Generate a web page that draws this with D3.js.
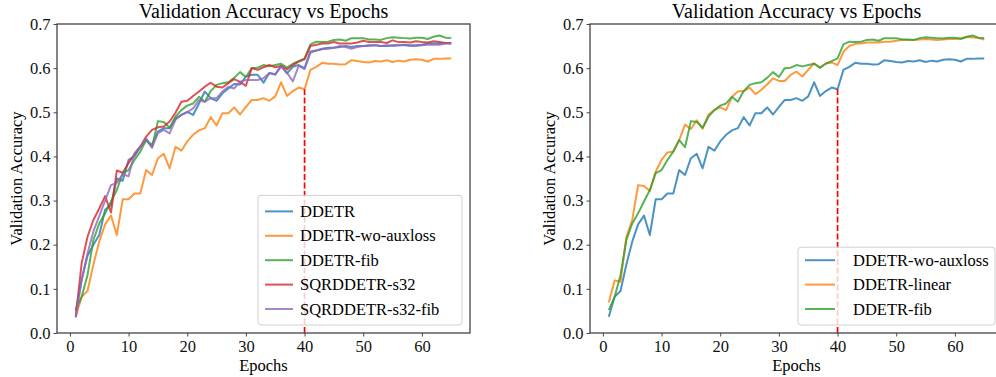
<!DOCTYPE html>
<html>
<head>
<meta charset="utf-8">
<script src="https://cdn.jsdelivr.net/npm/d3@7"></script>
<style>
  body { margin: 0; background: #fff; }
  svg { display: block; font-family: "Liberation Serif", "Times New Roman", serif; }
</style>
</head>
<body>
<svg id="chart" width="996" height="377"></svg>
<script>
// epochs 1..65, values
const epochs = d3.range(1, 66)
const xTicks = [0, 10, 20, 30, 40, 50, 60]
const yTicks = [0, 0.1, 0.2, 0.3, 0.4, 0.5, 0.6, 0.7]
const markEpoch = 40

const ddetr = [
  0.05, 0.12, 0.175, 0.2, 0.222, 0.279, 0.29, 0.35, 0.345, 0.392, 0.4, 0.422, 0.437, 0.426,
  0.456, 0.464, 0.464, 0.486, 0.494, 0.501, 0.494, 0.52, 0.547, 0.532,
  0.526, 0.543, 0.554, 0.564, 0.563, 0.581, 0.585, 0.585, 0.567, 0.589, 0.586, 0.605, 0.588, 0.603, 0.607, 0.6,
  0.638, 0.64, 0.644, 0.646, 0.646, 0.648, 0.65, 0.648, 0.65, 0.65, 0.652, 0.652, 0.65, 0.65, 0.652,
  0.652, 0.653, 0.652, 0.652, 0.653, 0.656, 0.656, 0.656, 0.657, 0.656
]
const ddetrWoAux = [
  0.037, 0.082, 0.095, 0.155, 0.207, 0.246, 0.266, 0.222, 0.303, 0.303, 0.316, 0.316, 0.369, 0.358,
  0.396, 0.406, 0.373, 0.422, 0.413, 0.434, 0.449,
  0.459, 0.464, 0.489, 0.47, 0.498, 0.498, 0.511, 0.495, 0.512, 0.528, 0.528, 0.532, 0.526, 0.536,
  0.568, 0.537, 0.548, 0.556, 0.552,
  0.596, 0.603, 0.612, 0.61, 0.61, 0.608, 0.609, 0.618, 0.616, 0.614, 0.613, 0.616, 0.615, 0.618, 0.614,
  0.617, 0.615, 0.619, 0.62, 0.619, 0.615, 0.621, 0.621, 0.622, 0.622
]
const ddetrFib = [
  0.052, 0.082, 0.131, 0.211, 0.248, 0.271, 0.298, 0.324, 0.362, 0.369, 0.392, 0.411, 0.437, 0.421,
  0.48, 0.478, 0.465, 0.49, 0.505, 0.515, 0.52, 0.535, 0.524, 0.548,
  0.562, 0.566, 0.568, 0.578, 0.591, 0.58, 0.6, 0.601, 0.607, 0.604, 0.607, 0.61, 0.601, 0.61, 0.616, 0.622,
  0.654, 0.66, 0.659, 0.66, 0.664, 0.665, 0.662, 0.668, 0.668, 0.668, 0.665, 0.665, 0.664, 0.668, 0.67,
  0.669, 0.668, 0.667, 0.669, 0.669, 0.666, 0.671, 0.674, 0.669, 0.668
]
const sqrS32 = [
  0.037, 0.158, 0.218, 0.256, 0.282, 0.31, 0.273, 0.368, 0.363, 0.385, 0.405, 0.422, 0.445,
  0.46, 0.466, 0.468, 0.479, 0.499, 0.524, 0.526, 0.537, 0.547, 0.558, 0.567,
  0.558, 0.556, 0.566, 0.575, 0.569, 0.56, 0.6, 0.596, 0.602, 0.607, 0.602, 0.605, 0.597, 0.607, 0.615, 0.62,
  0.65, 0.653, 0.656, 0.656, 0.659, 0.656, 0.656, 0.656, 0.658, 0.662, 0.659, 0.659, 0.659, 0.657, 0.663,
  0.659, 0.659, 0.658, 0.661, 0.659, 0.658, 0.661, 0.659, 0.657, 0.657
]
const sqrS32Fib = [
  0.035, 0.12, 0.18, 0.23, 0.265, 0.3, 0.335, 0.34, 0.36, 0.355, 0.407, 0.422, 0.441, 0.42,
  0.453, 0.46, 0.452, 0.483, 0.494, 0.5, 0.509, 0.528, 0.524, 0.532,
  0.532, 0.547, 0.558, 0.554, 0.569, 0.573, 0.573, 0.573, 0.577, 0.589, 0.585, 0.604, 0.59, 0.57, 0.605, 0.598,
  0.635, 0.64, 0.643, 0.644, 0.646, 0.65, 0.648, 0.644, 0.648, 0.65, 0.65, 0.652, 0.65, 0.652, 0.65,
  0.652, 0.652, 0.65, 0.65, 0.652, 0.653, 0.653, 0.653, 0.656, 0.656
]
const ddetrLinear = [
  0.069, 0.119, 0.116, 0.218, 0.256, 0.335, 0.333, 0.322, 0.366, 0.392, 0.409, 0.411, 0.437,
  0.472, 0.462, 0.482, 0.463, 0.495, 0.505, 0.511,
  0.505, 0.535, 0.547, 0.548, 0.556, 0.541, 0.551, 0.563, 0.577, 0.571, 0.571, 0.585, 0.592, 0.581, 0.596,
  0.611, 0.601, 0.611, 0.613, 0.607,
  0.637, 0.65, 0.655, 0.656, 0.658, 0.658, 0.658, 0.66, 0.66, 0.662, 0.664, 0.664, 0.664, 0.665, 0.666,
  0.665, 0.664, 0.665, 0.666, 0.666, 0.668, 0.67, 0.67, 0.668, 0.665
]

const leftNames = ['DDETR', 'DDETR-wo-auxloss', 'DDETR-fib', 'SQRDDETR-s32', 'SQRDDETR-s32-fib']
const leftSeries = [ddetr, ddetrWoAux, ddetrFib, sqrS32, sqrS32Fib]
const rightNames = ['DDETR-wo-auxloss', 'DDETR-linear', 'DDETR-fib']
const rightSeries = [ddetrWoAux, ddetrLinear, ddetrFib]

const colors = ['#1f77b4', '#ff7f0e', '#2ca02c', '#d62728', '#9467bd']
const serif = '"Liberation Serif", "Times New Roman", serif'
const svg = d3.select('#chart')

function panel (left, names, series, legendCfg) {
  const W = 413, top = 24, bottom = 333
  const x = d3.scaleLinear().domain([-2.2, 68.2]).range([left, left + W])
  const y = d3.scaleLinear().domain([0, 0.7]).range([bottom, top])
  const g = svg.append('g')

  // title
  g.append('text')
    .attr('x', left + W / 2).attr('y', 18)
    .attr('text-anchor', 'middle')
    .style('font-size', '20px')
    .text('Validation Accuracy vs Epochs')

  // axes
  const xAxis = g.append('g').attr('transform', `translate(0,${bottom})`)
    .call(d3.axisBottom(x).tickValues(xTicks).tickSizeOuter(0).tickSize(3.5).tickPadding(4))
  const yAxis = g.append('g').attr('transform', `translate(${left},0)`)
    .call(d3.axisLeft(y).tickValues(yTicks).tickFormat(d3.format('.1f')).tickSizeOuter(0).tickSize(3.5).tickPadding(3))
  for (const a of [xAxis, yAxis]) {
    a.attr('font-family', serif).attr('font-size', 16.5)
    a.select('.domain').remove()
    a.selectAll('text').attr('fill', '#111')
    a.selectAll('line').attr('stroke', '#333').attr('stroke-width', 0.9)
  }
  xAxis.selectAll('text').attr('dy', '0.71em')

  // axis labels
  g.append('text')
    .attr('x', left + W / 2).attr('y', 370.5)
    .attr('text-anchor', 'middle')
    .style('font-size', '16.5px')
    .text('Epochs')
  g.append('text')
    .attr('transform', `translate(${left - 41},${(top + bottom) / 2}) rotate(-90)`)
    .attr('dy', '0.35em')
    .attr('text-anchor', 'middle')
    .style('font-size', '16.5px')
    .text('Validation Accuracy')

  // lines
  const line = d3.line()
    .x((d, i) => x(epochs[i]))
    .y(d => y(d))
  series.forEach((s, i) => {
    g.append('path')
      .datum(s)
      .attr('d', line)
      .attr('fill', 'none')
      .attr('stroke', colors[i])
      .attr('stroke-opacity', 0.8)
      .attr('stroke-width', 2)
      .attr('stroke-linejoin', 'round')
  })

  // marker at epoch 40, up to the wo-auxloss value
  g.append('line')
    .attr('x1', x(markEpoch)).attr('x2', x(markEpoch))
    .attr('y1', y(0)).attr('y2', y(ddetrWoAux[epochs.indexOf(markEpoch)]))
    .attr('stroke', '#ff0000')
    .attr('stroke-width', 1.7)
    .attr('stroke-dasharray', '6,2.5')

  // frame
  g.append('rect')
    .attr('x', left).attr('y', top)
    .attr('width', W).attr('height', bottom - top)
    .attr('fill', 'none')
    .attr('stroke', '#444')
    .attr('stroke-width', 1.3)

  // legend
  const rowH = 24.4
  const { bw, hx1, hx2, tx, first } = legendCfg
  const bh = first + rowH * (names.length - 1) + 16
  const leg = g.append('g')
    .attr('transform', `translate(${left + W - 8 - bw},${bottom - 8 - bh})`)
  leg.append('rect')
    .attr('width', bw).attr('height', bh)
    .attr('rx', 3)
    .attr('fill', '#fff').attr('fill-opacity', 0.8)
    .attr('stroke', '#d0d0d0').attr('stroke-width', 1)
  const items = leg.selectAll('g.item').data(names).enter().append('g')
  items.append('line')
    .attr('x1', hx1).attr('x2', hx2)
    .attr('y1', (d, i) => first + i * rowH).attr('y2', (d, i) => first + i * rowH)
    .attr('stroke', (d, i) => colors[i])
    .attr('stroke-opacity', 0.8)
    .attr('stroke-width', 2)
  items.append('text')
    .attr('x', tx).attr('y', (d, i) => first + i * rowH)
    .attr('dy', '0.34em')
    .style('font-size', '16.5px')
    .text(d => d)
}

panel(57, leftNames, leftSeries, { bw: 204, hx1: 7, hx2: 35, tx: 42, first: 16 })
panel(590, rightNames, rightSeries, { bw: 197, hx1: 7, hx2: 37, tx: 55, first: 13 })
</script>
</body>
</html>
